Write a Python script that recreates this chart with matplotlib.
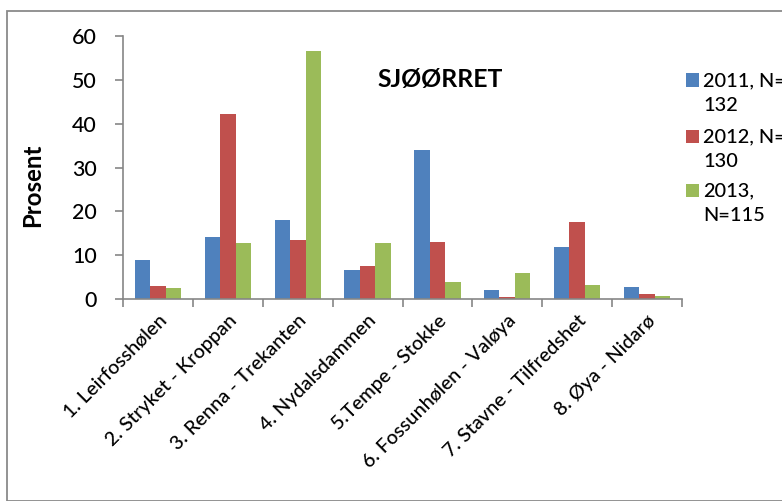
import matplotlib
matplotlib.use("Agg")
import matplotlib.pyplot as plt
from matplotlib.patches import Rectangle
import numpy as np

plt.rcParams['font.family'] = ['Lato', 'DejaVu Sans']
plt.rcParams['font.weight'] = 'medium'

categories = [
    "1. Leirfosshølen",
    "2. Stryket - Kroppan",
    "3. Renna - Trekanten",
    "4. Nydalsdammen",
    "5.Tempe - Stokke",
    "6. Fossunhølen - Valøya",
    "7. Stavne - Tilfredshet",
    "8. Øya - Nidarø",
]
series_labels = ["2011, N=\n132", "2012, N=\n130", "2013,\nN=115"]
values_2011 = [9.0, 14.2, 18.1, 6.6, 34.0, 2.1, 11.9, 2.8]
values_2012 = [3.0, 42.2, 13.6, 7.5, 13.0, 0.6, 17.6, 1.3]
values_2013 = [2.5, 12.8, 56.5, 12.8, 4.0, 5.9, 3.3, 0.8]
colors = ["#4F81BD", "#C0504D", "#9BBB59"]
yticks = [0, 10, 20, 30, 40, 50, 60]

W, H = 782, 501
fig = plt.figure(figsize=(W / 100, H / 100), dpi=100)

def fx(px):
    return px / W

def fy(py):
    return 1 - py / H

# chart frame
fig.patches.append(Rectangle((fx(6.5), 0), 1.0, fy(10.5), transform=fig.transFigure,
                             fill=False, edgecolor="#8a8a8a", linewidth=1.3))

ax = fig.add_axes([fx(123.3), fy(299.3), fx(681.7) - fx(123.3), fy(35.7) - fy(299.3)])

x = np.arange(len(categories))
w = 1 / 4.5
for i, vals in enumerate([values_2011, values_2012, values_2013]):
    ax.bar(x + (i - 1) * w, vals, width=w, color=colors[i], edgecolor="none", zorder=2)

ax.set_xlim(-0.5, len(categories) - 0.5)
ax.set_ylim(0, 60)
ax.set_yticks(yticks)
ax.set_yticklabels([str(t) for t in yticks], fontsize=15)

ax.set_xticks(x)
ax.set_xticklabels(categories, fontsize=14, rotation=45, ha="right", rotation_mode="anchor")
ax.set_xticks(np.arange(-0.5, len(categories)), minor=True)
ax.tick_params(axis="x", which="major", length=0, pad=9)
ax.tick_params(axis="x", which="minor", length=6, width=1.2, color="#868686", direction="out")
ax.tick_params(axis="y", length=6, width=1.2, color="#868686", direction="out", pad=13)

for side in ["top", "right"]:
    ax.spines[side].set_visible(False)
for side in ["left", "bottom"]:
    ax.spines[side].set_color("#868686")
    ax.spines[side].set_linewidth(1.2)

ylab = fig.text(fx(33), fy(185), "Prosent", rotation=90, fontsize=16, fontweight="bold",
                ha="center", va="center")
title = fig.text(fx(440), fy(80), "SJØØRRET", fontsize=19, fontweight="bold",
                 ha="center", va="center")

# legend: swatch beside the first line of each wrapped label, 25 px per line
entry_lines = [80, 136, 190]
legend_texts = []
for lab, col, yc in zip(series_labels, colors, entry_lines):
    fig.patches.append(Rectangle((fx(686), fy(yc + 6.5)), fx(13), fy(0) - fy(13),
                                 transform=fig.transFigure, facecolor=col, edgecolor="none"))
    for k, line in enumerate(lab.split("\n")):
        legend_texts.append(fig.text(fx(703), fy(yc + 6 + 25 * k), line, fontsize=15,
                                     ha="left", va="baseline"))

# size the texts to the Calibri-like metrics of the layout
fig.canvas.draw()
renderer = fig.canvas.get_renderer()

def fit(texts, ref, target, dim="width"):
    bb = ref.get_window_extent(renderer)
    cur = bb.width if dim == "width" else bb.height
    k = target / cur
    for t in texts:
        t.set_fontsize(t.get_fontsize() * k)

xlabels = ax.get_xticklabels()
fit(xlabels, xlabels[5], 160)
ylabels = ax.get_yticklabels()
fit(ylabels, ylabels[-1], 25)
fit([title], title, 125)
fit([ylab], ylab, 84, "height")
fit(legend_texts, legend_texts[-1], 62)

fig.savefig("out.png", dpi=100)
